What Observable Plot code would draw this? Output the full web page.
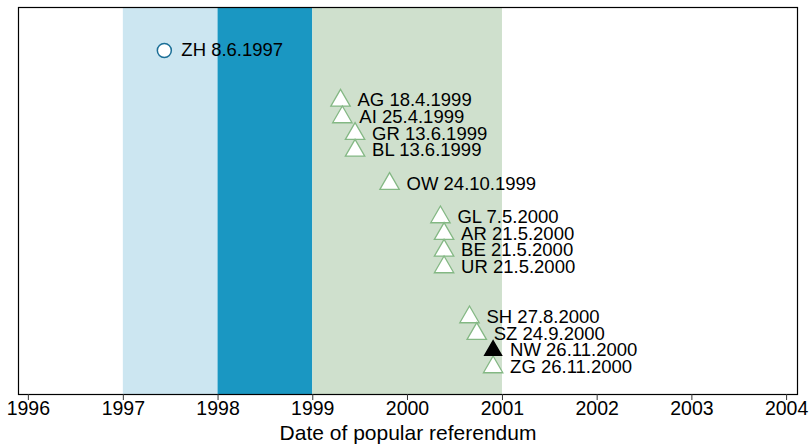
<!DOCTYPE html>
<html>
<head>
<meta charset="utf-8">
<script src="https://cdn.jsdelivr.net/npm/d3@7"></script>
<script src="https://cdn.jsdelivr.net/npm/@observablehq/plot@0.6"></script>
<style>
  body { margin: 0; background: white; overflow: hidden; }
  #chart { width: 810px; height: 446px; }
</style>
</head>
<body>
<div id="chart"></div>
<script>
// cantons, dates of popular referendum and vertical rank
const cantons = ["ZH", "AG", "AI", "GR", "BL", "OW", "GL", "AR", "BE", "UR", "SH", "SZ", "NW", "ZG"]
const fechas = ["1997-06-08", "1999-04-18", "1999-04-25", "1999-06-13", "1999-06-13", "1999-10-24",
  "2000-05-07", "2000-05-21", "2000-05-21", "2000-05-21", "2000-08-27", "2000-09-24", "2000-11-26", "2000-11-26"]
const rango = [20, 17, 16, 15, 14, 12, 10, 9, 8, 7, 4, 3, 2, 1]
const tipo = ["circle", "open", "open", "open", "open", "open", "open", "open", "open", "open", "open", "open", "filled", "open"]

// shaded periods
const periodoInicio = ["1997-01-01", "1998-01-01", "1999-01-01"]
const periodoFin = ["1998-01-01", "1999-01-01", "2001-01-01"]
const periodoColor = ["#cce6f1", "#1a97c2", "#cfe0cd"]

const years = d3.range(1996, 2005)

const fmt = d3.utcFormat("%-d.%-m.%Y")
let data = cantons.map((c, i) => ({
  canton: c,
  fecha: new Date(fechas[i]),
  rango: rango[i],
  tipo: tipo[i]
}))
data.forEach(d => d.label = d.canton + " " + fmt(d.fecha))

let bandas = periodoInicio.map((d, i) => ({ x1: new Date(d), x2: new Date(periodoFin[i]), color: periodoColor[i] }))
let anios = years.map(y => new Date(Date.UTC(y, 0, 1)))

let chart = Plot.plot({
  width: 810,
  height: 446,
  marginLeft: 18,
  marginRight: 13,
  marginTop: 7,
  marginBottom: 52,
  style: { fontFamily: "Liberation Sans, Arial, sans-serif", background: "white" },
  x: {
    type: "utc",
    domain: [new Date("1995-11-24"), new Date("2004-02-12")]
  },
  y: { domain: [-0.64, 22.58], axis: null },
  marks: [
    Plot.rectX(bandas, { x1: "x1", x2: "x2", fill: "color" }),
    Plot.frame({ stroke: "black", strokeWidth: 1.2 }),
    // ticks only; labels drawn below with a bigger font
    Plot.axisX(anios, {
      tickFormat: () => "",
      tickSize: 6,
      label: null,
      stroke: "#333"
    }),
    Plot.text(anios, {
      x: d => d, text: d3.utcFormat("%Y"), frameAnchor: "bottom", dy: 20.5, fontSize: 19.5, fill: "black"
    }),
    Plot.text(["Date of popular referendum"], {
      frameAnchor: "bottom", dy: 45, fontSize: 21, fill: "black"
    }),
    Plot.dot(data.filter(d => d.tipo == "circle"), {
      x: "fecha", y: "rango", r: 7, stroke: "#1b6f97", strokeWidth: 1.5, fill: "white"
    }),
    Plot.dot(data.filter(d => d.tipo == "open"), {
      x: "fecha", y: "rango", symbol: "triangle", r: 7.2, stroke: "#84b884", strokeWidth: 1.3, fill: "white"
    }),
    Plot.dot(data.filter(d => d.tipo == "filled"), {
      x: "fecha", y: "rango", symbol: "triangle", r: 6.2, stroke: "black", fill: "black"
    }),
    Plot.text(data, {
      x: "fecha", y: "rango", text: "label", dx: 17, textAnchor: "start", fontSize: 18.5, fill: "black"
    })
  ]
})
d3.select('#chart').append(() => chart)
</script>
</body>
</html>
